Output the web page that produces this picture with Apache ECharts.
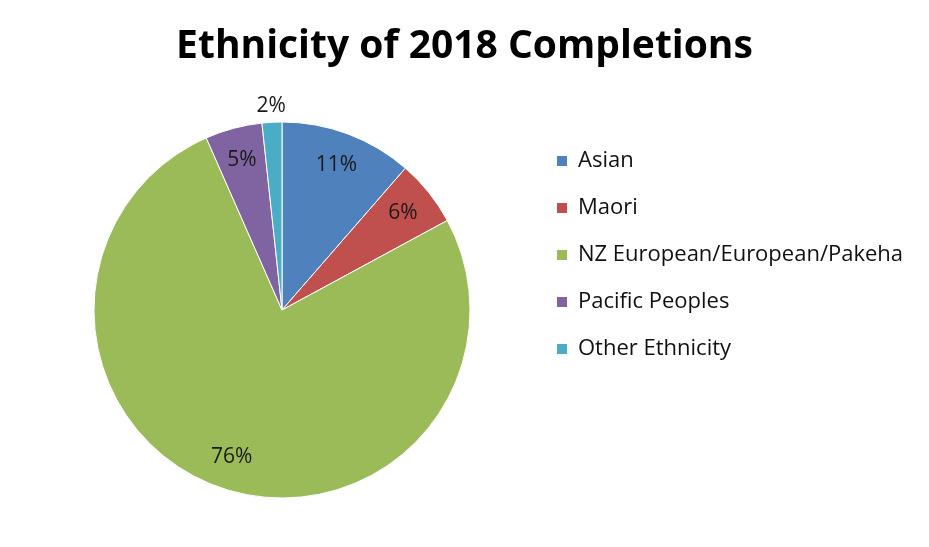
<!DOCTYPE html>
<html>
<head>
<meta charset="utf-8">
<script src="https://cdn.jsdelivr.net/npm/echarts@6/dist/echarts.min.js"></script>
<style>
  html, body { margin: 0; padding: 0; background: #fff; }
  #main { width: 929px; height: 547px; }
</style>
</head>
<body>
<div id="main"></div>
<script>
// data
var categories = ['Asian', 'Maori', 'NZ European/European/Pakeha', 'Pacific Peoples', 'Other Ethnicity'];
var values = [11.4, 5.7, 76.3, 4.9, 1.7];
var colors = ['#4f81bd', '#c0504d', '#9bbb59', '#8064a2', '#4bacc6'];
// which labels sit outside the pie
var outsideLabels = ['Other Ethnicity'];

var fontFamily = '"Open Sans", "Liberation Sans", sans-serif';

var pieData = categories.map(function (name, i) {
  return { name: name, value: values[i] };
});

// invisible rings that only carry the percentage labels
function labelRing(outside) {
  return categories.map(function (name, i) {
    var isOut = outsideLabels.indexOf(name) >= 0;
    return {
      name: name,
      value: values[i],
      label: { show: isOut === outside }
    };
  });
}

var labelStyle = {
  position: 'inside',
  formatter: '{d}%',
  fontFamily: fontFamily,
  fontSize: 21,
  color: '#1a1a1a'
};

var chart = echarts.init(document.getElementById('main'));
chart.setOption({
  backgroundColor: '#fff',
  color: colors,
  animation: false,
  title: {
    text: 'Ethnicity of 2018 Completions',
    left: 'center',
    top: 22,
    textStyle: {
      fontFamily: fontFamily,
      fontWeight: 'bold',
      fontSize: 39,
      color: '#000'
    }
  },
  legend: {
    orient: 'vertical',
    left: 555,
    top: 150,
    padding: 0,
    itemGap: 25,
    itemWidth: 12,
    itemHeight: 12,
    icon: 'rect',
    data: categories,
    textStyle: {
      fontFamily: fontFamily,
      fontSize: 22,
      color: '#111',
      padding: [0, 0, 0, 5]
    }
  },
  series: [
    {
      type: 'pie',
      center: [282, 310],
      radius: 188,
      startAngle: 90,
      label: { show: false },
      labelLine: { show: false },
      itemStyle: { borderColor: '#fff', borderWidth: 1 },
      emphasis: { disabled: true },
      data: pieData
    },
    {
      type: 'pie',
      center: [282, 310],
      radius: [116, 188],
      startAngle: 90,
      silent: true,
      avoidLabelOverlap: false,
      percentPrecision: 0,
      itemStyle: { color: 'transparent' },
      label: labelStyle,
      labelLine: { show: false },
      data: labelRing(false)
    },
    {
      type: 'pie',
      center: [282, 310],
      radius: [188, 214],
      startAngle: 90,
      silent: true,
      avoidLabelOverlap: false,
      percentPrecision: 0,
      itemStyle: { color: 'transparent' },
      label: labelStyle,
      labelLine: { show: false },
      data: labelRing(true)
    }
  ]
});
</script>
</body>
</html>
